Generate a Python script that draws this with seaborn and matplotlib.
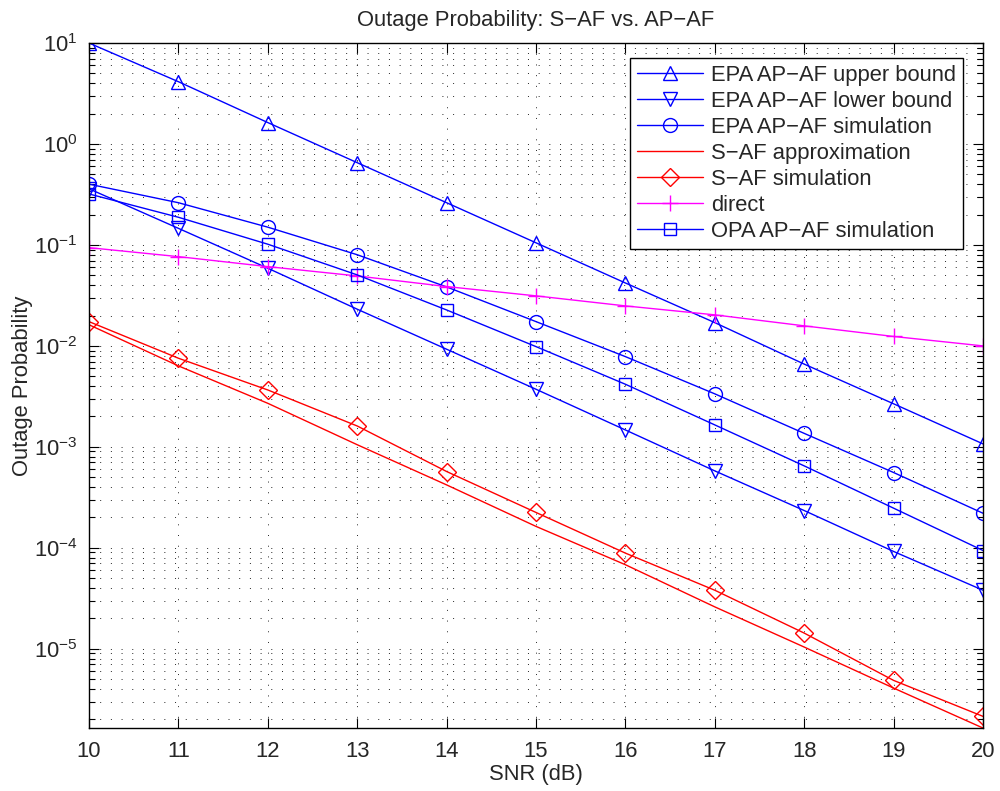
import numpy as np
import pandas as pd
import matplotlib
matplotlib.use("Agg")
import matplotlib.pyplot as plt
import matplotlib.ticker as mticker
import seaborn as sns

# ---------------- data ----------------
snr = [10, 11, 12, 13, 14, 15, 16, 17, 18, 19, 20]
epa_upper = [10, 4.14, 1.63, 0.653, 0.262, 0.105, 0.042, 0.017, 0.0066, 0.00267, 0.00107]
epa_lower = [0.36, 0.146, 0.0588, 0.0231, 0.00927, 0.00372, 0.00147, 0.000578, 0.000234, 9.2e-5, 3.8e-5]
epa_sim = [0.40, 0.262, 0.150, 0.080, 0.0384, 0.0174, 0.00783, 0.00335, 0.00136, 0.000557, 0.000220]
saf_approx = [0.0162, 0.00634, 0.0027, 0.00105, 0.00042, 0.000163, 6.8e-5, 2.6e-5, 1.04e-5, 4.08e-6, 1.64e-6]
saf_sim = [0.0174, 0.00755, 0.00366, 0.00161, 0.00057, 0.000224, 8.86e-5, 3.8e-5, 1.43e-5, 4.86e-6, 2.14e-6]
direct = [0.094, 0.0766, 0.061, 0.0493, 0.0387, 0.0313, 0.0249, 0.0203, 0.0158, 0.0124, 0.0100]
opa_sim = [0.32, 0.188, 0.1017, 0.0505, 0.0227, 0.00984, 0.00417, 0.00165, 0.000648, 0.000247, 9.4e-5]

labels = ["EPA AP\u2212AF upper bound", "EPA AP\u2212AF lower bound", "EPA AP\u2212AF simulation",
          "S\u2212AF approximation", "S\u2212AF simulation", "direct", "OPA AP\u2212AF simulation"]
title = "Outage Probability: S\u2212AF vs. AP\u2212AF"
xlabel = "SNR (dB)"
ylabel = "Outage Probability"
y_limits = (1.64e-6, 10)

# ---------------- style ----------------
sns.set_style("ticks")
plt.rcParams["font.family"] = ["Liberation Sans", "DejaVu Sans"]
plt.rcParams["mathtext.fontset"] = "custom"
plt.rcParams["mathtext.rm"] = "Liberation Sans"
plt.rcParams["mathtext.it"] = "Liberation Sans:italic"
plt.rcParams["mathtext.bf"] = "Liberation Sans:bold"
plt.rcParams["axes.unicode_minus"] = True

FS = 15.8

fig = plt.figure(figsize=(10, 7.91), dpi=100)
ax = fig.add_axes([0.089, 0.0796, 0.894, 0.866])

series = [
    (epa_upper, dict(color="#0000ff", marker="^", markersize=10)),
    (epa_lower, dict(color="#0000ff", marker="v", markersize=10)),
    (epa_sim, dict(color="#0000ff", marker="o", markersize=10)),
    (saf_approx, dict(color="#ff0000", marker=None)),
    (saf_sim, dict(color="#ff0000", marker="D", markersize=9)),
    (direct, dict(color="#ff00ff", marker="+", markersize=12)),
    (opa_sim, dict(color="#0000ff", marker="s", markersize=8.5)),
]

for (vals, st), lab in zip(series, labels):
    df = pd.DataFrame({"SNR": snr, "P": vals})
    kws = dict(color=st["color"], linewidth=1.0, label=lab, legend=False)
    if st["marker"] is not None:
        kws.update(marker=st["marker"], markersize=st["markersize"],
                   markerfacecolor="none", markeredgecolor=st["color"],
                   markeredgewidth=1.0)
    sns.lineplot(data=df, x="SNR", y="P", ax=ax, **kws)

ax.set_yscale("log")
ax.set_xlim(10, 20)
ax.set_ylim(*y_limits)
ax.xaxis.set_major_locator(mticker.MultipleLocator(1))
ax.yaxis.set_major_locator(mticker.FixedLocator([1e-5, 1e-4, 1e-3, 1e-2, 1e-1, 1, 10]))
ax.yaxis.set_minor_locator(mticker.LogLocator(base=10, subs=np.arange(2, 10), numticks=100))
ax.yaxis.set_minor_formatter(mticker.NullFormatter())

dot = (0, (1, 10))
ax.grid(True, which="major", axis="both", color="0.15", linestyle=dot, linewidth=0.7)
ax.grid(True, which="minor", axis="y", color="0.15", linestyle=dot, linewidth=0.7)

ax.tick_params(which="both", direction="in", top=True, right=True, labelsize=FS, width=0.8, color="black")
ax.tick_params(which="major", length=7, pad=8)
ax.tick_params(which="minor", length=4)
ax.tick_params(axis="x", pad=9)
for sp in ax.spines.values():
    sp.set_linewidth(1.0)
    sp.set_color("black")

ax.set_title(title, fontsize=FS, pad=12)
ax.set_xlabel(xlabel, fontsize=FS, labelpad=2)
ax.set_ylabel(ylabel, fontsize=FS, labelpad=1)

leg = ax.legend(loc="upper right", bbox_to_anchor=(0.9776, 0.978), borderaxespad=0,
                fontsize=FS, frameon=True, fancybox=False, shadow=False,
                handlelength=3.0, labelspacing=0.23, borderpad=0.3, handletextpad=0.4)
leg.get_frame().set_edgecolor("black")
leg.get_frame().set_linewidth(1.0)
leg.get_frame().set_alpha(1)

fig.savefig("out.png", dpi=100, facecolor="white")
